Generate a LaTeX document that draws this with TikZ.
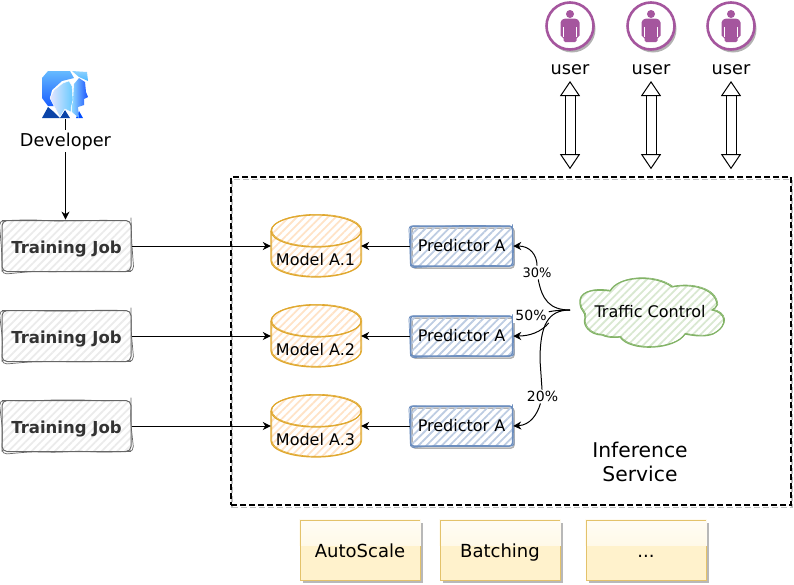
\documentclass[tikz,border=0pt]{standalone}
\usepackage{fontspec}
\setmainfont{DejaVu Sans}
\usetikzlibrary{arrows.meta,patterns.meta,decorations.pathmorphing}

\definecolor{jobline}{HTML}{666666}
\definecolor{dbline}{HTML}{E0A82E}
\definecolor{predline}{HTML}{6C8EBF}
\definecolor{cloudline}{HTML}{82B366}
\definecolor{userline}{HTML}{A5569E}
\definecolor{noteline}{HTML}{E3C26B}
\definecolor{notefill}{HTML}{FFF2CC}
\definecolor{devdark}{HTML}{0A44A8}

\tikzset{
  flow/.style={-{Stealth[length=8pt,width=8pt,inset=2.5pt]},line width=1pt},
  hatch/.style={pattern={Lines[angle=45,distance=5.5pt,line width=1.8pt]},pattern color=#1},
  sketch/.style={postaction={draw=#1,line width=0.7pt,decorate,decoration={random steps,segment length=24pt,amplitude=0.8pt}}},
  sketchcurve/.style={postaction={draw=#1,line width=0.6pt,transform canvas={xshift=0.8pt,yshift=0.7pt}}},
  jobbox/.style={draw=jobline,line width=1pt,rounded corners=5pt,hatch=black!8,sketch=jobline,minimum width=129pt,minimum height=51pt,
    font=\fontsize{16.5}{18}\selectfont\bfseries,text=black!80,text height=14pt,text depth=0pt},
  dbanchor/.style={minimum width=90pt,minimum height=62pt,inner sep=0pt},
  dbtext/.style={font=\fontsize{16}{17}\selectfont,inner sep=0pt,text height=12pt,text depth=0pt},
  predbox/.style={draw=predline,line width=1.5pt,rounded corners=3pt,hatch=predline!45,sketch=predline,minimum width=102pt,minimum height=40pt,
    font=\fontsize{16}{17}\selectfont,text height=11.5pt,text depth=0pt,
    preaction={draw=black!30,line width=1.5pt,transform canvas={xshift=1.5pt,yshift=-2pt}}},
  notebox/.style={draw=noteline,line width=1pt,fill=notefill,minimum width=120pt,minimum height=60pt,font=\fontsize{18}{18}\selectfont,text height=15pt,text depth=0pt,
    preaction={fill=black!28,transform canvas={xshift=3pt,yshift=-3pt}},
    path picture={\shade[top color=white!80!notefill,bottom color=white!22!notefill]
      (path picture bounding box.north west) rectangle ([yshift=35pt]path picture bounding box.south east);}},
  glassedge/.style={draw=white!70!notefill,line width=1pt},
  pctlabel/.style={fill=white,inner sep=2pt,font=\fontsize{14}{15}\selectfont,text height=9.5pt,text depth=0pt},
  userlabel/.style={font=\fontsize{17.7}{18}\selectfont,inner sep=0pt,outer sep=7pt,text height=14pt,text depth=0pt},
  userring/.style={circle,draw=userline,line width=2.6pt,fill=white,minimum size=47pt,inner sep=0pt,
    preaction={fill=black!30,transform canvas={xshift=2pt,yshift=-3pt}}},
  updown/.style={{Triangle[open,length=15pt,width=20pt,fill=white]}-{Triangle[open,length=15pt,width=20pt,fill=white]},double,double distance=9pt,line width=1pt,shorten >=7pt},
  userglyph/.pic={
    \fill[userline] (0,-12) circle (4);
    \fill[userline,rounded corners=1.5pt] (-9.5,-5) -- (-9.5,11) -- (-6.5,11) -- (-6.5,16) -- (6.5,16) -- (6.5,11) -- (9.5,11) -- (9.5,-5) -- (6,-7.5) -- (-6,-7.5) -- cycle;
    \draw[white,line width=0.6pt] (-6.5,1) -- (-6.5,11) (6.5,1) -- (6.5,11);
  },
  dbglyph/.pic={
    \draw[dbline,line width=1.2pt,hatch=orange!22,sketchcurve=dbline] (-45,-15) .. controls (-45,-24) and (-25,-31) .. (0,-31) .. controls (25,-31) and (45,-24) .. (45,-15)
      -- (45,15) .. controls (45,24) and (25,31) .. (0,31) .. controls (-25,31) and (-45,24) .. (-45,15) -- cycle;
    \draw[dbline,line width=1.2pt,sketchcurve=dbline] (-45,-15) .. controls (-45,-6) and (-25,1) .. (0,1) .. controls (25,1) and (45,-6) .. (45,-15);
  },
}

\begin{document}
\begin{tikzpicture}[x=1pt,y=-1pt]
  \useasboundingbox (0,0) rectangle (794,584);

  % service frame
  \node (svc) [draw=black,dash pattern=on 6pt off 3pt,line width=1.6pt,minimum width=560pt,minimum height=328pt,
    preaction={draw=black!25,dash pattern=on 6pt off 3pt,line width=1.6pt,transform canvas={xshift=1pt,yshift=-2.5pt}}] at (511,341) {};
  \node (svctext) [align=center,font=\fontsize{20.3}{24}\selectfont,inner sep=0pt] at (640,462) {Inference\\Service};

  % developer
  \shade[top color=blue!40!cyan!45,bottom color=blue!40!cyan!70] (72,71) -- (87,72) -- (88,81) -- (79,77) -- cycle;
  \shade[top color=blue!45!cyan!60,bottom color=blue!70!cyan!90] (42,78) -- (48,71) -- (70,71) -- (74,78) -- (62,81) -- (52,90) -- (50,98) -- (55,106) -- (48,106) -- (42,98) -- cycle;
  \fill[devdark] (42,118) -- (48,107) -- (54,112) -- (60,118) -- cycle;
  \fill[devdark] (60,118) -- (65,110) -- (70,118) -- cycle;
  \fill[blue!70!cyan] (76,118) -- (79,111) -- (83,118) -- cycle;
  \shade[left color=blue!35!cyan!45,right color=blue!75!cyan!90] (74,84) -- (79,78) -- (85,82) -- (86,92) -- (88,97) -- (84,99) -- (84,105) -- (78,107) -- (79,118) -- (72,112) -- (73,100) -- cycle;
  \shade[left color=white!90!blue,right color=blue!35!cyan!60,draw=white] (50,98) -- (54,90) -- (63,83) -- (69,81) -- (72,86) -- (73,100) -- (71,108) -- (71,112) -- (65,109) -- (60,117) -- (55,108) -- cycle;
  \coordinate (devicon) at (65.5,119);
  \node (dev) [font=\fontsize{17.7}{20}\selectfont,inner sep=2pt,text height=14pt,text depth=4pt] at (65.5,141) {Developer};

  % training jobs
  \node (job1) [jobbox] at (66.5,246) {Training Job};
  \node (job2) [jobbox] at (66.5,336) {Training Job};
  \node (job3) [jobbox] at (66.5,426) {Training Job};

  % models
  \foreach \i/\my in {1/246,2/336,3/426}{
    \pic at (316,\my) {dbglyph};
    \node (mod\i) [dbanchor] at (316,\my) {};
    \node (mod\i text) [dbtext] at (315.5,\my+13) {Model A.\i};
  }

  % predictors
  \node (pred1) [predbox] at (461.5,246) {Predictor A};
  \node (pred2) [predbox] at (461.5,336) {Predictor A};
  \node (pred3) [predbox] at (461.5,426) {Predictor A};

  % traffic
  \draw[cloudline,line width=1.2pt,hatch=cloudline!30,sketchcurve=cloudline] (580,304) .. controls (578,293) and (590,288) .. (610,291)
    .. controls (618,276) and (655,274) .. (672,287) .. controls (690,283) and (716,288) .. (717,305)
    .. controls (716,308) and (714,309) .. (712,310) .. controls (725,312) and (730,325) .. (713,334)
    .. controls (705,337) and (695,336) .. (685,334) .. controls (675,350) and (630,352) .. (620,337)
    .. controls (612,338) and (606,337) .. (602,335) .. controls (590,335) and (582,325) .. (585,318)
    .. controls (586,312) and (580,310) .. (580,304) -- cycle;
  \node (cloud) [font=\fontsize{16}{17}\selectfont,inner sep=0pt,text height=12.5pt,text depth=0pt] at (650,311) {Traffic Control};
  \coordinate (tcin) at (570,310);
  \node (pct1) [pctlabel,font=\fontsize{13}{15}\selectfont] at (537,272.5) {30\%};
  \node (pct2) [pctlabel] at (531,316) {50\%};
  \node (pct3) [pctlabel] at (542.5,396.5) {20\%};

  % users
  \foreach \i/\ux in {1/570,2/651,3/731}{
    \node (user\i) [userring] at (\ux,26) {};
    \pic at (user\i.center) {userglyph};
    \node (ulabel\i) [userlabel] at (\ux,67) {user};
    \draw[updown] (ulabel\i.south) -- (svc.north -| ulabel\i);
  }

  \draw[line width=1pt] (devicon) -- (dev.north);
  \draw[flow] (dev.south) -- (dev.south |- job1.north);
  \foreach \i in {1,2,3}{
    \draw[flow] (job\i) -- (mod\i);
    \draw[flow] (pred\i) -- (mod\i);
  }

  \draw[line width=1pt] (tcin) .. controls (550,310) and (542,300) .. (pct1);
  \draw[flow] (pct1) .. controls (537,255) and (530,246) .. (pred1.east);
  \draw[line width=1pt] (tcin) .. controls (555,310) and (548,312) .. (pct2);
  \draw[flow] (pct2.south east) .. controls (541,332) and (530,336) .. (pred2.east);
  \draw[line width=1pt] (tcin) .. controls (548,310) and (540,325) .. (540,360) -- (pct3);
  \draw[flow] (pct3) .. controls (537,415) and (530,425) .. (pred3.east);

  % bottom features
  \node (auto) [notebox] at (360,550) {AutoScale};
  \node (batch) [notebox] at (500,550) {Batching};
  \node (more) [notebox] at (646,550) {...};
  \foreach \b in {auto,batch,more}
    \draw[glassedge] ([yshift=35pt]\b.south west) -- (\b.north west) -- (\b.north east) -- ([yshift=35pt]\b.south east);
\end{tikzpicture}
\end{document}
